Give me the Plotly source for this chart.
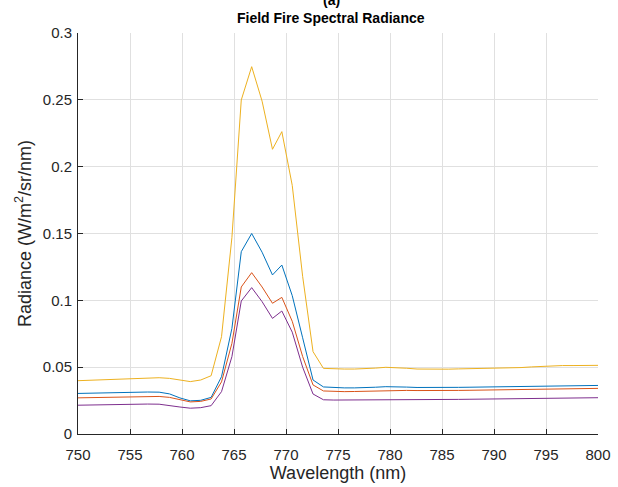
import plotly.graph_objects as go

wavelength = [749.7, 750.7, 751.7, 752.7, 753.7, 754.7, 755.7, 756.7, 757.8, 758.8,
              759.8, 760.8, 761.8, 762.8, 763.8, 764.8, 765.7, 766.7, 767.7, 768.7,
              769.6, 770.6, 771.6, 772.6, 773.6, 774.6, 775.6, 776.6, 777.6, 778.6,
              779.6, 780.6, 781.6, 782.6, 783.6, 784.6, 785.6, 786.6, 787.6, 788.6,
              789.6, 790.6, 791.6, 792.6, 793.6, 794.6, 795.6, 796.6, 797.6, 798.6,
              799.6, 800.6]

series_1 = [0.0303, 0.0305, 0.0307, 0.0309, 0.0311, 0.0312, 0.0313, 0.0314, 0.0313, 0.0300,
            0.0270, 0.0248, 0.0252, 0.0274, 0.0429, 0.0790, 0.1364, 0.1500, 0.1360, 0.1190,
            0.1264, 0.1035, 0.0720, 0.0404, 0.0352, 0.0346, 0.0345, 0.0345, 0.0346, 0.0350,
            0.0354, 0.0354, 0.0351, 0.0348, 0.0347, 0.0347, 0.0348, 0.0349, 0.0350, 0.0351,
            0.0352, 0.0352, 0.0353, 0.0354, 0.0356, 0.0358, 0.0360, 0.0362, 0.0363, 0.0363,
            0.0364, 0.0364]

series_2 = [0.0270, 0.0272, 0.0274, 0.0276, 0.0278, 0.0279, 0.0280, 0.0281, 0.0281, 0.0274,
            0.0255, 0.0240, 0.0244, 0.0262, 0.0390, 0.0678, 0.1100, 0.1207, 0.1100, 0.0978,
            0.1022, 0.0843, 0.0580, 0.0367, 0.0322, 0.0318, 0.0317, 0.0318, 0.0320, 0.0323,
            0.0326, 0.0327, 0.0326, 0.0325, 0.0324, 0.0324, 0.0325, 0.0326, 0.0327, 0.0328,
            0.0329, 0.0329, 0.0330, 0.0331, 0.0333, 0.0335, 0.0337, 0.0339, 0.0340, 0.0341,
            0.0342, 0.0342]

series_3 = [0.0398, 0.0401, 0.0404, 0.0408, 0.0411, 0.0414, 0.0417, 0.0420, 0.0421, 0.0416,
            0.0403, 0.0392, 0.0404, 0.0436, 0.0728, 0.1470, 0.2499, 0.2748, 0.2490, 0.2130,
            0.2262, 0.1860, 0.1180, 0.0616, 0.0491, 0.0487, 0.0486, 0.0486, 0.0488, 0.0493,
            0.0499, 0.0498, 0.0492, 0.0486, 0.0484, 0.0484, 0.0485, 0.0487, 0.0488, 0.0490,
            0.0491, 0.0492, 0.0494, 0.0497, 0.0502, 0.0507, 0.0511, 0.0512, 0.0512, 0.0513,
            0.0514, 0.0514]

series_4 = [0.0215, 0.0217, 0.0219, 0.0220, 0.0221, 0.0222, 0.0223, 0.0224, 0.0223, 0.0215,
            0.0202, 0.0193, 0.0197, 0.0212, 0.0317, 0.0579, 0.0995, 0.1095, 0.0990, 0.0865,
            0.0920, 0.0762, 0.0500, 0.0299, 0.0256, 0.0254, 0.0254, 0.0254, 0.0255, 0.0257,
            0.0259, 0.0259, 0.0258, 0.0257, 0.0257, 0.0257, 0.0258, 0.0259, 0.0260, 0.0261,
            0.0262, 0.0262, 0.0263, 0.0264, 0.0266, 0.0268, 0.0269, 0.0270, 0.0271, 0.0271,
            0.0272, 0.0272]

x_ticks = [750, 755, 760, 765, 770, 775, 780, 785, 790, 795, 800]
y_ticks = [0, 0.05, 0.1, 0.15, 0.2, 0.25, 0.3]
y_tick_labels = ["0", "0.05", "0.1", "0.15", "0.2", "0.25", "0.3"]

colors = ["#0072BD", "#D95319", "#EDB120", "#7E2F8E"]

fig = go.Figure()
for s, c in zip([series_1, series_2, series_3, series_4], colors):
    fig.add_trace(go.Scatter(x=wavelength, y=s, mode="lines",
                             line=dict(color=c, width=1), showlegend=False))

font_family = "Liberation Sans, Arial, Helvetica, sans-serif"
axis_common = dict(
    showgrid=True, gridcolor="#e0e0e0", gridwidth=1,
    showline=True, linecolor="#262626", linewidth=1,
    ticks="inside", ticklen=5, tickcolor="#262626",
    tickfont=dict(family=font_family, size=15, color="#262626"),
    zeroline=False, mirror=False, automargin=False,
)

plot_h = 487 - 33 - 53
plot_w = 618 - 78 - 20

fig.update_layout(
    width=618, height=487,
    margin=dict(l=78, r=20, t=33, b=53),
    paper_bgcolor="white", plot_bgcolor="white",
    font=dict(family=font_family, color="#262626"),
    xaxis=dict(axis_common, range=[750, 800], tickvals=x_ticks, ticklabelstandoff=7,
               title=dict(text="Wavelength (nm)", standoff=3,
                          font=dict(family=font_family, size=18, color="#262626"))),
    yaxis=dict(axis_common, range=[0, 0.3], tickvals=y_ticks, ticktext=y_tick_labels,
               ticklabelstandoff=2,
               title=dict(text="Radiance (W/m<sup>2</sup>/sr/nm)", standoff=6,
                          font=dict(family=font_family, size=18, color="#262626"))),
    annotations=[
        dict(text="<b>(a)</b>", xref="paper", yref="paper", x=(331 - 78) / plot_w,
             xanchor="center", y=1 + 33 / plot_h, yanchor="middle", showarrow=False,
             font=dict(family=font_family, size=14, color="#000000")),
        dict(text="<b>Field Fire Spectral Radiance</b>", xref="paper", yref="paper",
             x=(331 - 78) / plot_w, xanchor="center", y=1 + 15 / plot_h, yanchor="middle",
             showarrow=False,
             font=dict(family=font_family, size=14, color="#000000")),
    ],
)

fig.write_html("out.html")
